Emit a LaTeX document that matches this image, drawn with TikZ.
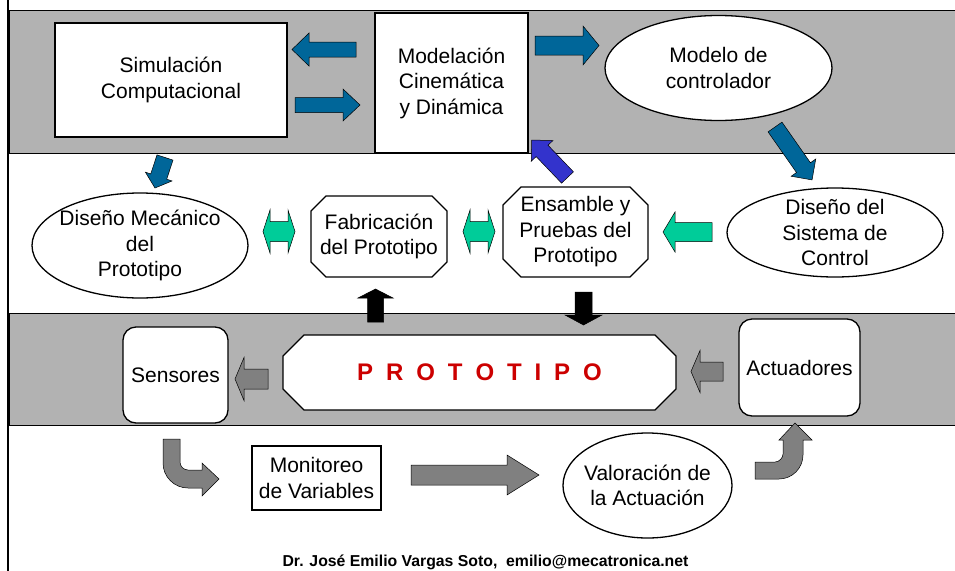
\documentclass[tikz,border=0pt]{standalone}
\usepackage{fontspec}
\setmainfont{Liberation Sans}
\usetikzlibrary{shapes.geometric,backgrounds}
\definecolor{bandgrey}{HTML}{B2B2B2}
\definecolor{cblue}{HTML}{006699}
\definecolor{cpurple}{HTML}{3333CC}
\definecolor{cgreen}{HTML}{00CC99}
\definecolor{cgrey}{HTML}{808080}
\definecolor{cred}{HTML}{CC0000}
% block arrow: [style]{x tail}{y tail}{angle}{length}{body half}{head half}{head length}
\newcommand{\barrow}[8][]{%
  \begin{scope}[shift={(#2,#3)},rotate=#4]
    \filldraw[arrowline,#1] (0,-#6) -- ({#5-#8},-#6) -- ({#5-#8},-#7) -- (#5,0)
      -- ({#5-#8},#7) -- ({#5-#8},#6) -- (0,#6) -- cycle;
  \end{scope}}
% double arrow: {x1}{x2}{yc}{body half}{head half}{head length}
\newcommand{\dblarrow}[6]{%
  \filldraw[arrowline,fill=cgreen] (#1,#3) -- ({#1+#6},{#3-#5}) -- ({#1+#6},{#3-#4})
    -- ({#2-#6},{#3-#4}) -- ({#2-#6},{#3-#5}) -- (#2,#3) -- ({#2-#6},{#3+#5})
    -- ({#2-#6},{#3+#4}) -- ({#1+#6},{#3+#4}) -- ({#1+#6},{#3+#5}) -- cycle;}
% octagon outline behind a named node
\newcommand{\octa}[2]{%
  \begin{scope}[on background layer]
    \filldraw[shapeline] ([xshift=#2pt]#1.north west) -- ([xshift=-#2pt]#1.north east)
      -- ([yshift=-#2pt]#1.north east) -- ([yshift=#2pt]#1.south east)
      -- ([xshift=-#2pt]#1.south east) -- ([xshift=#2pt]#1.south west)
      -- ([yshift=#2pt]#1.south west) -- ([yshift=-#2pt]#1.north west) -- cycle;
  \end{scope}}
\newcommand{\gp}{\hspace{12.9pt}}
\tikzset{
  arrowline/.style={draw=black, line width=0.5pt, line join=miter},
  shapeline/.style={draw=black, fill=white, line width=1.3pt},
  txt/.style={align=center, font=\fontsize{21}{25.5}\selectfont},
  boxnode/.style={txt, shapeline, rectangle, inner sep=0pt, outer sep=0pt},
  ellnode/.style={txt, shapeline, ellipse, inner sep=-15pt, outer sep=0pt},
  octnode/.style={txt, rectangle, inner sep=0pt, outer sep=0pt},
  roundnode/.style={txt, shapeline, rectangle, rounded corners=13pt, inner sep=0pt, outer sep=0pt},
}
\begin{document}
\begin{tikzpicture}[x=1pt,y=-1pt]
\useasboundingbox (0,0) rectangle (955,570);
\begin{scope}[on background layer]
  \fill[white] (0,0) rectangle (955,570);
  \filldraw[fill=bandgrey, draw=black, line width=0.8pt] (9,10) rectangle (962,153);
  \filldraw[fill=bandgrey, draw=black, line width=0.8pt] (9,313) rectangle (962,425);
\end{scope}
\draw[line width=2.5pt] (8,-2) -- (8,572);

% nodes
\node[boxnode, minimum width=232pt, minimum height=114pt] (sim) at (171,80) {Simulación\\Computacional};
\node[boxnode, minimum width=153pt, minimum height=140pt] (mod) at (451.5,83) {Modelación\\Cinemática\\y Dinámica};
\node[ellnode, minimum width=227pt, minimum height=105pt] (ctrl) at (718.5,68) {Modelo de\\controlador};
\node[ellnode, minimum width=216pt, minimum height=105pt] (mec) at (140,245.5) {Diseño Mecánico\\del\\Prototipo};
\node[octnode, minimum width=136pt, minimum height=81pt] (fab) at (379,236.5) {Fabricación\\del Prototipo};
\node[octnode, minimum width=145pt, minimum height=90pt] (ens) at (575.5,232) {Ensamble y\\Pruebas del\\Prototipo};
\node[ellnode, minimum width=216pt, minimum height=89pt] (dsc) at (835,232.5) {Diseño del\\Sistema de\\Control};
\node[roundnode, minimum width=105pt, minimum height=96pt] (sen) at (175.5,375) {Sensores};
\node[octnode, minimum width=393pt, minimum height=75pt, text=cred, font=\bfseries\fontsize{24}{28}\selectfont] (proto) at (479.5,372.5)
  {P\gp R\gp O\gp T\gp O\gp T\gp I\gp P\gp O};
\node[roundnode, minimum width=121pt, minimum height=97pt] (act) at (799.5,367.5) {Actuadores};
\node[boxnode, minimum width=129pt, minimum height=64pt] (mon) at (316.5,478) {Monitoreo\\de Variables};
\node[ellnode, minimum width=169pt, minimum height=105pt] (val) at (647.5,485.5) {Valoración de\\la Actuación};
\node[anchor=base, font=\bfseries\fontsize{15.8}{18}\selectfont] (foot) at (485.5,566)
  {Dr. José Emilio Vargas Soto,\ \ emilio@mecatronica.net};

\octa{fab}{15}
\octa{ens}{18}
\octa{proto}{21}

% block arrows, top band
\barrow[fill=cblue]{356}{49.5}{180}{64}{7.5}{16.5}{17}
\barrow[fill=cblue]{295}{105}{0}{65}{7.5}{16}{17}
\barrow[fill=cblue]{535}{45.5}{0}{64}{9.5}{19.5}{16}
\barrow[fill=cblue]{775}{127}{-55}{64.6}{8.5}{15}{15}
\barrow[fill=cpurple]{567.5}{177.5}{133.7}{51.8}{8.2}{15}{15}
\barrow[fill=cblue]{165}{157.5}{-108.2}{32.1}{8.4}{14}{12}

% middle row
\dblarrow{263}{295}{231.5}{10}{21.5}{7}
\dblarrow{463}{495}{231.5}{10}{21.5}{7}
\barrow[fill=cgreen]{712}{232}{180}{49}{9.5}{20}{12}
\barrow[fill=black]{375.5}{322}{90}{33}{8}{17.5}{9}
\barrow[fill=black]{583.5}{292}{-90}{33}{8.5}{18.5}{10}

% lower band
\barrow[fill=cgrey]{268}{379}{180}{33}{10}{21.5}{9}
\barrow[fill=cgrey]{723}{371.5}{180}{32}{9.5}{21}{9}
\barrow[fill=cgrey]{411}{475}{0}{128}{10}{20}{32}

% curved arrows
\filldraw[arrowline, fill=cgrey] (163,439) -- (163,463) .. controls (163,476.8) and (174.2,488) .. (188,488)
  -- (202,488) -- (202,496) -- (219,479) -- (202,463) -- (202,470) -- (188,470)
  .. controls (183.6,470) and (180,466.4) .. (180,462) -- (180,439) -- cycle;
\filldraw[arrowline, fill=cgrey] (755,462) -- (775,462) .. controls (779.4,462) and (783,457.6) .. (783,454)
  -- (783,440) -- (779,440) -- (795,423) -- (812,440) -- (803,440) -- (803,455)
  .. controls (803,468.2) and (792.2,479) .. (779,479) -- (755,479) -- cycle;
\end{tikzpicture}
\end{document}
